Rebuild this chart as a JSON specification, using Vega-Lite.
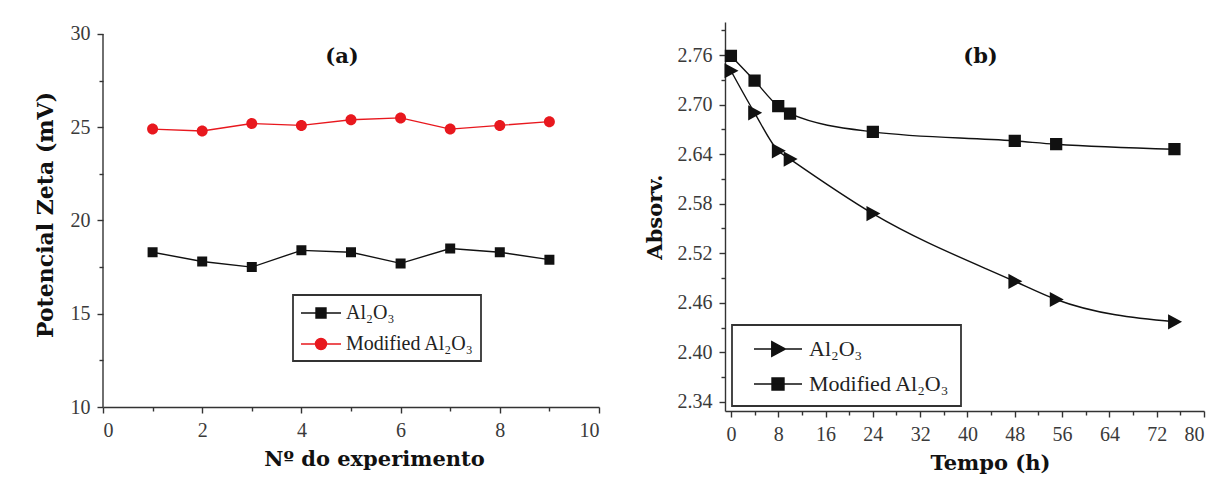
{
  "$schema": "https://vega.github.io/schema/vega-lite/v6.json",
  "background": "white",
  "padding": {"left": 34, "top": 22, "right": 4, "bottom": 4},
  "spacing": 44,
  "datasets": {
    "zeta": [
      {"experimento": 1, "zeta": 18.3, "amostra": "Al₂O₃"},
      {"experimento": 2, "zeta": 17.8, "amostra": "Al₂O₃"},
      {"experimento": 3, "zeta": 17.5, "amostra": "Al₂O₃"},
      {"experimento": 4, "zeta": 18.4, "amostra": "Al₂O₃"},
      {"experimento": 5, "zeta": 18.3, "amostra": "Al₂O₃"},
      {"experimento": 6, "zeta": 17.7, "amostra": "Al₂O₃"},
      {"experimento": 7, "zeta": 18.5, "amostra": "Al₂O₃"},
      {"experimento": 8, "zeta": 18.3, "amostra": "Al₂O₃"},
      {"experimento": 9, "zeta": 17.9, "amostra": "Al₂O₃"},
      {"experimento": 1, "zeta": 24.9, "amostra": "Modified Al₂O₃"},
      {"experimento": 2, "zeta": 24.8, "amostra": "Modified Al₂O₃"},
      {"experimento": 3, "zeta": 25.2, "amostra": "Modified Al₂O₃"},
      {"experimento": 4, "zeta": 25.1, "amostra": "Modified Al₂O₃"},
      {"experimento": 5, "zeta": 25.4, "amostra": "Modified Al₂O₃"},
      {"experimento": 6, "zeta": 25.5, "amostra": "Modified Al₂O₃"},
      {"experimento": 7, "zeta": 24.9, "amostra": "Modified Al₂O₃"},
      {"experimento": 8, "zeta": 25.1, "amostra": "Modified Al₂O₃"},
      {"experimento": 9, "zeta": 25.3, "amostra": "Modified Al₂O₃"}
    ],
    "abs": [
      {"tempo": 0, "absorv": 2.741, "amostra": "Al₂O₃"},
      {"tempo": 4, "absorv": 2.690, "amostra": "Al₂O₃"},
      {"tempo": 8, "absorv": 2.644, "amostra": "Al₂O₃"},
      {"tempo": 10, "absorv": 2.634, "amostra": "Al₂O₃"},
      {"tempo": 24, "absorv": 2.568, "amostra": "Al₂O₃"},
      {"tempo": 48, "absorv": 2.486, "amostra": "Al₂O₃"},
      {"tempo": 55, "absorv": 2.464, "amostra": "Al₂O₃"},
      {"tempo": 75, "absorv": 2.437, "amostra": "Al₂O₃"},
      {"tempo": 0, "absorv": 2.759, "amostra": "Modified Al₂O₃"},
      {"tempo": 4, "absorv": 2.729, "amostra": "Modified Al₂O₃"},
      {"tempo": 8, "absorv": 2.698, "amostra": "Modified Al₂O₃"},
      {"tempo": 10, "absorv": 2.689, "amostra": "Modified Al₂O₃"},
      {"tempo": 24, "absorv": 2.667, "amostra": "Modified Al₂O₃"},
      {"tempo": 48, "absorv": 2.656, "amostra": "Modified Al₂O₃"},
      {"tempo": 55, "absorv": 2.652, "amostra": "Modified Al₂O₃"},
      {"tempo": 75, "absorv": 2.646, "amostra": "Modified Al₂O₃"}
    ]
  },
  "config": {
    "view": {"stroke": null},
    "font": "Liberation Serif",
    "axis": {
      "grid": false,
      "domainColor": "#333333",
      "tickColor": "#333333",
      "domainWidth": 1.4,
      "tickWidth": 1.4,
      "tickSize": 6,
      "labelColor": "#3a3a3a",
      "labelFont": "Liberation Serif",
      "labelFontSize": 20,
      "labelPadding": 7,
      "titleFont": "DejaVu Serif",
      "titleFontWeight": "bold",
      "titleFontSize": 21,
      "titleColor": "#111111",
      "titlePadding": 8
    },
    "legend": {"strokeWidth": 1.8},
    "title": {"font": "DejaVu Serif", "fontWeight": "bold", "fontSize": 21, "color": "#111111"}
  },
  "resolve": {"scale": {"color": "independent", "shape": "independent"}, "legend": {"color": "independent", "shape": "independent"}},
  "hconcat": [
    {
      "width": 496,
      "height": 385,
      "title": {"text": "(a)", "anchor": "middle", "frame": "group", "offset": -45, "dx": -9},
      "data": {"name": "zeta"},
      "layer": [
        {
          "data": {"values": [{}]},
          "mark": {"type": "rule", "color": "#333333", "strokeWidth": 1.4},
          "encoding": {
            "x": {"datum": 0, "type": "quantitative", "axis": null},
            "y": {"datum": 10, "type": "quantitative", "axis": null},
            "y2": {"datum": 30}
          }
        },
        {
          "mark": {"type": "line", "strokeWidth": 1.4},
          "encoding": {
            "x": {"field": "experimento", "type": "quantitative", "scale": {"domain": [0, 10], "nice": false, "zero": false},
                  "axis": {"values": [0, 2, 4, 6, 8, 10], "title": "Nº do experimento", "titleX": 271}},
            "y": {"field": "zeta", "type": "quantitative", "scale": {"domain": [10, 30.643], "nice": false, "zero": false},
                  "axis": {"values": [10, 15, 20, 25, 30], "domain": false, "title": "Potencial Zeta (mV)", "titlePadding": 13, "titleFontSize": 22}},
            "color": {"field": "amostra", "type": "nominal",
                      "scale": {"domain": ["Al₂O₃", "Modified Al₂O₃"], "range": ["#111111", "#e8181e"]}}
          }
        },
        {
          "mark": {"type": "point", "filled": true, "opacity": 1, "size": 400},
          "encoding": {
            "x": {"field": "experimento", "type": "quantitative",
                  "axis": {"values": [1, 3, 5, 7, 9], "labels": false, "domain": false, "tickSize": 4, "title": null, "orient": "bottom"}},
            "y": {"field": "zeta", "type": "quantitative",
                  "axis": {"values": [12.5, 17.5, 22.5, 27.5], "labels": false, "domain": false, "tickSize": 4, "title": null, "orient": "left"}},
            "color": {"field": "amostra", "type": "nominal",
                      "legend": {"orient": "none", "legendX": 190, "legendY": 273, "title": null,
                                 "padding": 7, "rowPadding": 10, "labelFont": "Liberation Serif", "labelFontSize": 20, "labelColor": "#222222",
                                 "symbolOffset": 10, "labelOffset": 14, "symbolSize": 400, "symbolStrokeWidth": 1.4,
                                 "fillColor": "white", "strokeColor": "#333333"}},
            "shape": {"field": "amostra", "type": "nominal",
                      "scale": {"domain": ["Al₂O₃", "Modified Al₂O₃"],
                                "range": ["M-2,0H2M-0.5,-0.5H0.5V0.5H-0.5Z", "M-2,0H2M0.55,0A0.55,0.55,0,1,1,-0.55,0A0.55,0.55,0,1,1,0.55,0Z"]}}
          }
        }
      ],
      "resolve": {"axis": {"x": "independent", "y": "independent"}}
    },
    {
      "width": 479,
      "height": 389,
      "title": {"text": "(b)", "anchor": "middle", "frame": "group", "offset": -45, "dx": 16},
      "data": {"name": "abs"},
      "layer": [
        {
          "mark": {"type": "line", "interpolate": "monotone", "strokeWidth": 1.4},
          "encoding": {
            "x": {"field": "tempo", "type": "quantitative", "scale": {"domain": [-1.0, 80], "nice": false, "zero": false},
                  "axis": {"values": [0, 8, 16, 24, 32, 40, 48, 56, 64, 72, 80], "title": "Tempo (h)", "titleX": 265}},
            "y": {"field": "absorv", "type": "quantitative", "scale": {"domain": [2.329, 2.8], "nice": false, "zero": false},
                  "axis": {"values": [2.34, 2.4, 2.46, 2.52, 2.58, 2.64, 2.7, 2.76], "format": ".2f", "title": "Absorv.", "titlePadding": 12}},
            "color": {"field": "amostra", "type": "nominal",
                      "scale": {"domain": ["Al₂O₃", "Modified Al₂O₃"], "range": ["#111111", "#111111"]}}
          }
        },
        {
          "mark": {"type": "point", "filled": true, "opacity": 1, "size": 600},
          "encoding": {
            "x": {"field": "tempo", "type": "quantitative",
                  "axis": {"values": [4, 12, 20, 28, 36, 44, 52, 60, 68, 76], "labels": false, "domain": false, "tickSize": 4, "title": null, "orient": "bottom"}},
            "y": {"field": "absorv", "type": "quantitative",
                  "axis": {"values": [2.37, 2.43, 2.49, 2.55, 2.61, 2.67, 2.73, 2.79], "labels": false, "domain": false, "tickSize": 4, "title": null, "orient": "left"}},
            "color": {"field": "amostra", "type": "nominal",
                      "legend": {"orient": "none", "legendX": 7, "legendY": 303, "title": null,
                                 "padding": 11, "symbolOffset": 22, "rowPadding": 11, "labelFont": "Liberation Serif", "labelFontSize": 22, "labelColor": "#222222",
                                 "labelOffset": 18, "symbolSize": 576, "symbolStrokeWidth": 1.4, "fillColor": "white", "strokeColor": "#333333"}},
            "shape": {"field": "amostra", "type": "nominal",
                      "scale": {"domain": ["Al₂O₃", "Modified Al₂O₃"],
                                "range": ["M-2,0H2M-0.52,-0.62L0.62,0L-0.52,0.62Z", "M-2,0H2M-0.5,-0.5H0.5V0.5H-0.5Z"]}}
          }
        }
      ],
      "resolve": {"axis": {"x": "independent", "y": "independent"}}
    }
  ]
}
